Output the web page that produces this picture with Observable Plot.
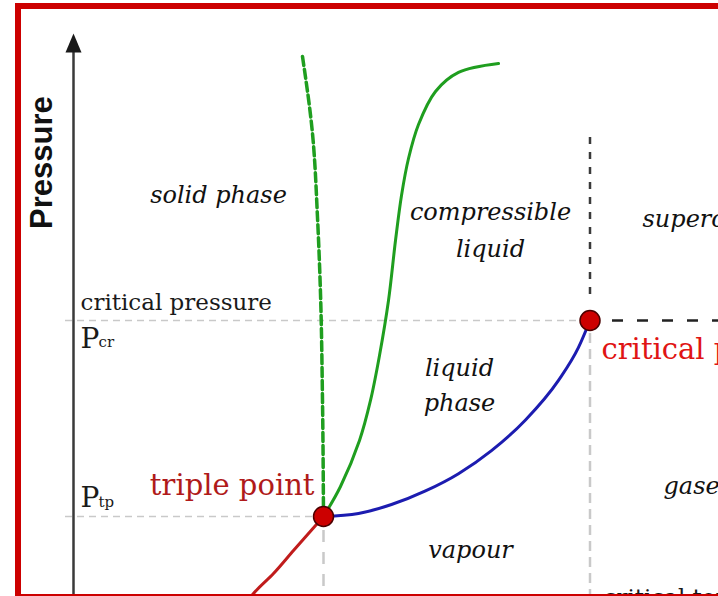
<!DOCTYPE html>
<html>
<head>
<meta charset="utf-8">
<script src="https://cdn.jsdelivr.net/npm/d3@7"></script>
<script src="https://cdn.jsdelivr.net/npm/@observablehq/plot@0.6"></script>
<style>
  html, body { margin: 0; padding: 0; background: #fff; overflow: hidden; }
  #wrap { position: relative; width: 718px; height: 596px; overflow: hidden; background: #fff; }
  #frame { position: absolute; left: 15px; top: 3px; width: 900px; height: 585px;
           border: 6px solid #cc0000; pointer-events: none; }
  g[aria-label="axis-title"] text { letter-spacing: 1.2px; }
</style>
</head>
<body>
<div id="wrap"><div id="chart"></div><div id="frame"></div></div>
<script>
// ---- data (temperature T and pressure P in arbitrary units) ----
const T_TP = 1.0, P_TP = 1.0;       // triple point
const T_CR = 2.066, P_CR = 3.0;     // critical point

// solid-liquid (fusion) curve
const fusionT = [1.0, 1.068, 1.144, 1.188, 1.224, 1.26, 1.288, 1.312, 1.34, 1.38, 1.448, 1.54, 1.70];
const fusionP = [1.0, 1.306, 1.776, 2.184, 2.643, 3.204, 3.816, 4.276, 4.653, 5.0, 5.337, 5.531, 5.622];
// anomalous (water) fusion curve, dashed
const anomalyT = [0.916, 0.956, 0.976, 0.988, 0.996, 1.0];
const anomalyP = [5.694, 4.908, 4.051, 3.276, 2.184, 1.0];
// liquid-vapour curve
const vapT = [1.0, 1.14, 1.272, 1.408, 1.54, 1.672, 1.808, 1.94, 2.02, 2.066];
const vapP = [1.0, 1.031, 1.122, 1.261, 1.437, 1.672, 1.985, 2.389, 2.725, 3.0];
// solid-vapour (sublimation) curve
const sublT = [0.68, 0.72, 0.80, 0.88, 1.0];
const sublP = [0.082, 0.214, 0.418, 0.653, 1.0];

// region labels (centered, italic)
const regionText = ["solid phase", "compressible", "liquid", "liquid", "phase", "vapour"];
const regionT = [0.58, 1.668, 1.668, 1.544, 1.544, 1.588];
const regionP = [4.276, 4.102, 3.724, 2.51, 2.153, 0.653];
// region labels (left-aligned, italic)
const rightText = ["supercritical fluid", "gaseous phase"];
const rightT = [2.276, 2.36];
const rightP = [4.031, 1.306];

// axis annotations
const axisTitle = "Pressure";
const axisText = ["critical pressure", "critical temperature"];
const axisTextT = [0.028, 2.12];
const axisTextP = [3.184, 0.173];
const symText = ["P", "P"];
const subText = ["cr", "tp"];
const symT = [0.028, 0.028];
const symP = [2.816, 1.184];

// point labels
const pointText = ["triple point", "critical point"];

// ---- build tables ----
const zip = (xs, ys) => xs.map((x, i) => ({T: x, P: ys[i]}));
const fusion = zip(fusionT, fusionP);
const anomaly = zip(anomalyT, anomalyP);
const vapour = zip(vapT, vapP);
const sublim = zip(sublT, sublP);
const regions = regionText.map((t, i) => ({text: t, T: regionT[i], P: regionP[i]}));
const rights = rightText.map((t, i) => ({text: t, T: rightT[i], P: rightP[i]}));
const axisLabels = axisText.map((t, i) => ({text: t, T: axisTextT[i], P: axisTextP[i]}));
const syms = symText.map((t, i) => ({text: t, sub: subText[i], T: symT[i], P: symP[i]}));
const points = [{T: T_TP, P: P_TP}, {T: T_CR, P: P_CR}];

const W = 718, H = 596;
const xPx0 = 73, xPerUnit = 250, yPx0 = 614, yPerUnit = 98;
const xDomain = [(0 - xPx0) / xPerUnit, (W - xPx0) / xPerUnit];
const yDomain = [(yPx0 - H) / yPerUnit, yPx0 / yPerUnit];

const arrowHead = {
  draw(ctx) { ctx.moveTo(0, 0); ctx.lineTo(8, 19); ctx.lineTo(-8, 19); ctx.closePath(); }
};

const serif = "DejaVu Serif";
const light = "#c9c9c9";

const plot = Plot.plot({
  width: W, height: H,
  margin: 0,
  x: {domain: xDomain, axis: null},
  y: {domain: yDomain, axis: null},
  style: {background: "transparent"},
  marks: [
    // light guide lines
    Plot.ruleY([P_CR], {x1: -0.032, x2: T_CR, stroke: light, strokeWidth: 1.5, strokeDasharray: "7,5"}),
    Plot.ruleY([P_TP], {x1: -0.032, x2: T_TP, stroke: light, strokeWidth: 1.5, strokeDasharray: "7,5"}),
    Plot.ruleX([T_TP], {y1: 0.857, y2: 0, stroke: light, strokeWidth: 2.5, strokeDasharray: "12,10"}),
    Plot.ruleX([T_CR], {y1: 2.867, y2: 0, stroke: light, strokeWidth: 2.5, strokeDasharray: "10,6"}),
    // dark dashed boundaries of supercritical region
    Plot.ruleX([T_CR], {y1: 4.867, y2: 3.204, stroke: "#3a3a3a", strokeWidth: 2.5, strokeDasharray: "7,8"}),
    Plot.ruleY([P_CR], {x1: 2.156, x2: 2.7, stroke: "#222", strokeWidth: 2.5, strokeDasharray: "11,14"}),
    // pressure axis
    Plot.ruleX([0], {y1: 5.75, y2: 0, stroke: "#3a3a3a", strokeWidth: 2.5}),
    Plot.dot([{T: 0, P: 5.929}], {x: "T", y: "P", symbol: arrowHead, r: 8, fill: "#1a1a1a", stroke: "none"}),
    Plot.text([axisTitle], {x: () => -0.124, y: () => 4.612, rotate: -90, ariaLabel: "axis-title",
      fontFamily: "Liberation Sans", fontWeight: "bold", fontSize: 31, fill: "#111"}),
    // phase boundaries
    Plot.line(anomaly, {x: "T", y: "P", stroke: "#1f9e1f", strokeWidth: 3.5, strokeDasharray: "9,4", curve: "monotone-y"}),
    Plot.line(fusion, {x: "T", y: "P", stroke: "#1f9e1f", strokeWidth: 3, curve: "catmull-rom"}),
    Plot.line(vapour, {x: "T", y: "P", stroke: "#1c1cb0", strokeWidth: 3, curve: "monotone-x"}),
    Plot.line(sublim, {x: "T", y: "P", stroke: "#c01c1c", strokeWidth: 3, curve: "monotone-x"}),
    // points
    Plot.dot(points, {x: "T", y: "P", r: 10, fill: "#cc0000", stroke: "#4a0000", strokeWidth: 1.5}),
    // labels
    Plot.text(regions, {x: "T", y: "P", text: "text", fontFamily: serif, fontStyle: "italic", fontSize: 24, fill: "#111"}),
    Plot.text(rights, {x: "T", y: "P", text: "text", textAnchor: "start", fontFamily: serif, fontStyle: "italic", fontSize: 24, fill: "#111"}),
    Plot.text(axisLabels, {x: "T", y: "P", text: "text", textAnchor: "start", fontFamily: serif, fontSize: 23, fill: "#1a1a1a"}),
    Plot.text(syms, {x: "T", y: "P", text: "text", textAnchor: "start", fontFamily: serif, fontSize: 28, fill: "#1a1a1a"}),
    Plot.text(syms, {x: "T", y: "P", text: "sub", textAnchor: "start", dx: 18, dy: 4, fontFamily: serif, fontSize: 15, fill: "#1a1a1a"}),
    Plot.text([pointText[0]], {x: () => 0.964, y: () => 1.316, textAnchor: "end", fontFamily: serif, fontSize: 29, fill: "#b01a1a"}),
    Plot.text([pointText[1]], {x: () => 2.112, y: () => 2.704, textAnchor: "start", fontFamily: serif, fontSize: 29, fill: "#e01414"})
  ]
});
document.getElementById("chart").appendChild(plot);
</script>
</body>
</html>
